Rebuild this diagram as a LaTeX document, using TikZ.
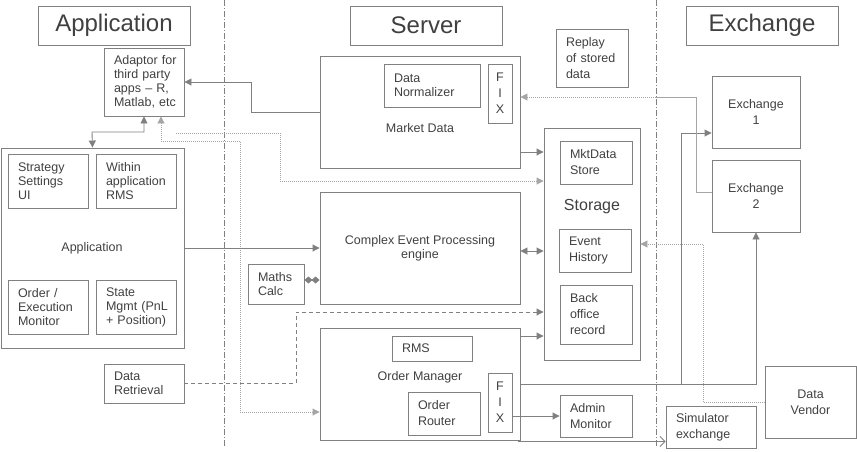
\documentclass[tikz,border=0pt]{standalone}
\usepackage{fontspec}
\setmainfont{Liberation Sans}
\usetikzlibrary{arrows.meta,calc}
\definecolor{boxc}{RGB}{128,128,128}
\definecolor{txtc}{RGB}{64,64,64}
\definecolor{dotc}{RGB}{165,165,165}
\begin{document}
\begin{tikzpicture}[x=1pt,y=-1pt,
  every node/.style={text=txtc, font=\fontsize{12.5}{14}\selectfont},
  box/.style={draw=boxc, line width=0.9pt, inner sep=0pt},
  lbox/.style={box, inner xsep=10pt, align=left, execute at begin node={\hyphenpenalty=10000\exhyphenpenalty=10000}},
  cbox/.style={box, align=center},
  tall/.style={font=\fontsize{12.5}{16}\selectfont},
  titlebox/.style={box, font=\fontsize{24}{28}\selectfont, minimum width=152pt, minimum height=39pt},
  conn/.style={draw=boxc, line width=0.9pt},
  tri/.tip={Triangle[length=7pt,width=7pt]},
  arr/.style={conn, -tri},
  darr/.style={conn, tri-tri},
  dotl/.style={draw=dotc, line width=0.9pt, dash pattern=on 1pt off 1pt},
  dashl/.style={draw=boxc, line width=0.9pt, dash pattern=on 4pt off 3pt},
  sepline/.style={draw=boxc, line width=0.9pt, dash pattern=on 6pt off 2pt on 1pt off 2pt},
]
\useasboundingbox (0,0) rectangle (857,451);

% separators
\coordinate (s1t) at (224,0); \coordinate (s1b) at (224,446);
\coordinate (s2t) at (656,0); \coordinate (s2b) at (656,446);
\draw[sepline] (s1t) -- (s1b);
\draw[sepline] (s2t) -- (s2b);

% titles
\node[titlebox] (tapp) at (114,25.5) {Application};
\node[titlebox] (tsrv) at (426,25.5) {Server};
\node[titlebox] (texc) at (762,25.5) {Exchange};

% application side
\node[lbox, text width=60pt, minimum height=68pt] (adaptor) at (144,82) {Adaptor~for\\third~party\\apps~–~R,\\Matlab,~etc};
\node[box, minimum width=183pt, minimum height=200pt] (app) at (92.5,248) {};
\node (applbl) at (92,248) {Application};
\node[lbox, text width=60pt, minimum height=54pt] (ssui) at (48,181) {Strategy\\Settings\\UI};
\node[lbox, text width=60pt, minimum height=54pt] (warms) at (136,181) {Within\\application\\RMS};
\node[lbox, text width=60pt, minimum height=54pt] (oem) at (48,307) {Order~/\\Execution\\Monitor};
\node[lbox, text width=60pt, minimum height=54pt] (smgmt) at (136,307) {State\\Mgmt~(PnL\\+~Position)};
\node[lbox, text width=60pt, minimum height=39pt] (dr) at (144,383.5) {Data\\Retrieval};

% server side
\node[lbox, text width=36pt, minimum height=40pt] (maths) at (276,284) {Maths\\Calc};
\node[box, minimum width=200pt, minimum height=112pt] (md) at (420,112) {};
\node (mdlbl) at (420,128) {Market Data};
\node[lbox, text width=76pt, minimum height=43pt] (dn) at (432,85.5) {Data\\Normalizer};
\node[cbox, tall, minimum width=24pt, minimum height=59pt] (mdfix) at (500,93.5) {F\\I\\X};
\node[cbox, minimum width=200pt, minimum height=112pt] (cep) at (420,248) {Complex Event Processing\\engine};
\node[box, minimum width=200pt, minimum height=112pt] (om) at (420,384) {};
\node (omlbl) at (420,377) {Order Manager};
\node[lbox, text width=60pt, minimum height=25pt] (rms) at (432,348.5) {RMS};
\node[lbox, tall, text width=52pt, minimum height=43pt] (orr) at (444,413.5) {Order\\Router};
\node[cbox, tall, minimum width=24pt, minimum height=59pt] (omfix) at (500,402.5) {F\\I\\X};

\node[box, minimum width=96pt, minimum height=232pt] (storage) at (592,244) {};
\node[font=\fontsize{16}{18}\selectfont] (stlbl) at (592,207) {Storage};
\node[lbox, tall, text width=52pt, minimum height=43pt] (mds) at (596,162.5) {MktData\\Store};
\node[lbox, tall, text width=52pt, minimum height=43pt] (eh) at (595,250.5) {Event\\History};
\node[lbox, tall, text width=52pt, minimum height=59pt] (bor) at (596,314.5) {Back\\office\\record};
\node[lbox, tall, text width=52pt, minimum height=58pt] (replay) at (592,58) {Replay\\of~stored\\data};
\node[lbox, tall, text width=52pt, minimum height=42pt] (admin) at (596,416) {Admin\\Monitor};

% exchange side
\node[cbox, tall, minimum width=88pt, minimum height=72pt] (ex1) at (756,112) {Exchange\\1};
\node[cbox, tall, minimum width=88pt, minimum height=72pt] (ex2) at (756,196) {Exchange\\2};
\node[cbox, tall, minimum width=91pt, minimum height=72pt] (dv) at (810.5,402) {Data\\Vendor};
\node[lbox, tall, text width=70pt, minimum height=42pt] (sim) at (711,427) {Simulator\\exchange};

% connectors
\draw[arr] (md.west) -- ++(-68,0) |- (adaptor.east);
\draw[darr] (adaptor.south) |- (92,132) -- (app.north);
\draw[dotl, tri-tri] (om.west |- 0,412) -| (240,141) -| ([xshift=17pt]adaptor.south);
\coordinate (dstart) at (176,133);
\draw[dotl, -tri] (dstart) -- (280,133) |- (storage.west |- 0,181);
\draw[arr] (app.east) -- (cep.west);
\draw[conn, {Diamond[length=8pt,width=7pt]}-{Diamond[length=8pt,width=7pt]}] (maths.east |- 0,280) -- (cep.west |- 0,280);
\draw[darr] (cep.east |- 0,251) -- (storage.west |- 0,251);
\draw[arr] (md.east |- 0,152) -- (storage.west |- 0,152);
\draw[dashl, -tri] (dr.east) -| (296,312) -- (storage.west |- 0,312);
\draw[arr] (om.east |- 0,336) -- (storage.west |- 0,336);
\draw[arr] (om.east |- 0,384) -| (ex2.south);
\draw[arr] (681,384) |- (ex1.west |- 0,133);
\draw[arr] (omfix.east |- admin.west) -- (admin.west);
\draw[conn, -{Straight Barb[length=5pt,width=10pt]}] (518,441.5) -- (sim.west |- 0,441.5);
\draw[draw=dotc, line width=0.9pt] (ex2.west |- 0,192) -- (696,192) |- (656,97) coordinate (brk);
\draw[dotl, -tri] (brk) -- (md.east |- 0,97);
\draw[dotl, -tri] (dv.west) -| (703,244) -- (storage.east |- 0,244);
\end{tikzpicture}
\end{document}
